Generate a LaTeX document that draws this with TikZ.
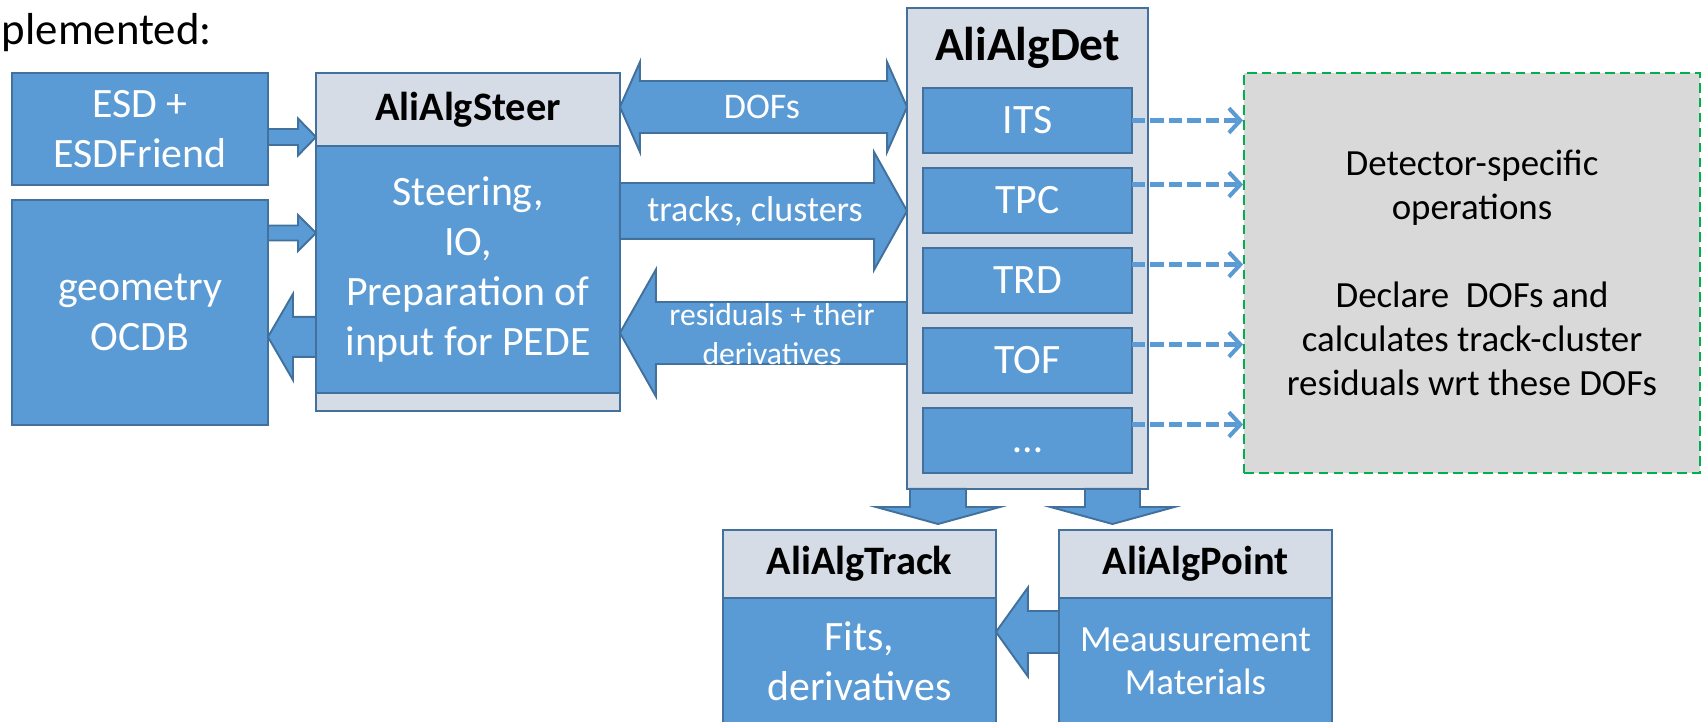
\documentclass[tikz,border=0pt]{standalone}
\usepackage{fontspec}
\setmainfont{Carlito}
\usetikzlibrary{calc,arrows.meta}

\definecolor{boxblue}{HTML}{5B9BD5}
\definecolor{boxedge}{HTML}{41719C}
\definecolor{headgray}{HTML}{D6DCE5}
\definecolor{notegray}{HTML}{D9D9D9}
\definecolor{notegreen}{HTML}{00B050}

\newcommand{\bigtxt}{\fontsize{23.8}{28.3}\selectfont}
\newcommand{\midtxt}{\fontsize{21}{25}\selectfont}
\newcommand{\hdtxt}{\fontsize{23}{27}\selectfont\bfseries}
\newcommand{\dettxt}{\fontsize{27}{32}\selectfont\bfseries}
\newcommand{\armtxt}{\fontsize{20.5}{24}\selectfont}
\newcommand{\restxt}{\fontsize{18}{22}\selectfont}
\newcommand{\toptxt}{\fontsize{25.5}{30}\selectfont}

% block arrow: from, to, shaft half width, head half width, head length (cm)
\newcommand{\blockarrow}[5]{%
  \path (#1) coordinate (ba-s) (#2) coordinate (ba-t);
  \coordinate (ba-h) at ($(ba-t)!#5cm!(ba-s)$);
  \draw[blockarrow] ($(ba-s)!#3cm!90:(ba-t)$) -- ($(ba-h)!#3cm!-90:(ba-s)$)
    -- ($(ba-h)!#4cm!-90:(ba-s)$) -- (ba-t) -- ($(ba-h)!#4cm!90:(ba-s)$)
    -- ($(ba-h)!#3cm!90:(ba-s)$) -- ($(ba-s)!#3cm!-90:(ba-t)$) -- cycle;
}
% same with a head on both ends
\newcommand{\twinarrow}[5]{%
  \path (#1) coordinate (ba-s) (#2) coordinate (ba-t);
  \coordinate (ba-h) at ($(ba-t)!#5cm!(ba-s)$);
  \coordinate (ba-g) at ($(ba-s)!#5cm!(ba-t)$);
  \draw[blockarrow] (ba-s) -- ($(ba-g)!#4cm!90:(ba-t)$) -- ($(ba-g)!#3cm!90:(ba-t)$)
    -- ($(ba-h)!#3cm!-90:(ba-s)$) -- ($(ba-h)!#4cm!-90:(ba-s)$) -- (ba-t)
    -- ($(ba-h)!#4cm!90:(ba-s)$) -- ($(ba-h)!#3cm!90:(ba-s)$)
    -- ($(ba-g)!#3cm!-90:(ba-t)$) -- ($(ba-g)!#4cm!-90:(ba-t)$) -- cycle;
}

\tikzset{
  bluebox/.style={draw=boxedge, fill=boxblue, line width=1.1pt, text=white,
    align=center, inner sep=0pt, outer sep=0pt, font=\bigtxt},
  headbox/.style={draw=boxedge, fill=headgray, line width=1.1pt,
    align=center, inner sep=0pt, outer sep=0pt, font=\hdtxt},
  blockarrow/.style={draw=boxedge, fill=boxblue, line width=1.1pt, line join=miter},
  dasharrow/.style={draw=boxblue, line width=2.3pt, dash pattern=on 7.5pt off 3pt,
    -{Straight Barb[length=6.5pt,width=14pt,line width=2.3pt]}},
  armlabel/.style={text=white, font=\armtxt, align=center, inner sep=0pt}
}

\begin{document}
\begin{tikzpicture}[x=0.02cm, y=-0.02cm]
\useasboundingbox (0,0) rectangle (1701,722);

\node[anchor=base east, font=\toptxt, inner sep=0pt] (heading) at (212,45) {plemented:};

% inputs
\node[bluebox, minimum width=5.12cm, minimum height=2.24cm] (esd) at (140,129) {ESD +\\ESDFriend};
\node[bluebox, minimum width=5.12cm, minimum height=4.5cm] (geom) at (140,312.5) {geometry\\OCDB};

% steering
\node[headbox, minimum width=6.08cm, minimum height=1.46cm, anchor=north west] (steerh) at (316,73) {AliAlgSteer};
\node[bluebox, minimum width=6.08cm, minimum height=4.94cm, anchor=north] (steer) at (steerh.south)
  {Steering,\\IO,\\Preparation of\\input for PEDE};
\node[headbox, minimum width=6.08cm, minimum height=0.36cm, anchor=north] (steerf) at (steer.south) {};

% detectors
\node[headbox, minimum width=4.82cm, minimum height=9.62cm] (det) at (1027.5,248.5) {};
\node[font=\dettxt, inner sep=0pt] (dettitle) at (1027.5,48) {AliAlgDet};
\foreach \n/\t [count=\i from 0] in {its/ITS,tpc/TPC,trd/TRD,tof/TOF,more/{\raisebox{-7pt}[0pt][0pt]{\dots}}}
  \node[bluebox, minimum width=4.18cm, minimum height=1.3cm] (\n) at (1027.5,120.5+80*\i) {\t};

\node[draw=notegreen, fill=notegray, line width=1.1pt, dash pattern=on 5.5pt off 3pt,
  minimum width=9.12cm, minimum height=8cm, font=\midtxt, align=center, inner sep=0pt] (grey) at (1472,273)
  {Detector-specific\\operations\\[25pt]Declare\ \ DOFs and\\calculates track-cluster\\residuals wrt these DOFs};

% track and point
\node[headbox, minimum width=5.46cm, minimum height=1.36cm, anchor=north west] (trackh) at (723,530) {AliAlgTrack};
\node[bluebox, minimum width=5.46cm, minimum height=2.52cm, anchor=north] (track) at (trackh.south) {Fits,\\derivatives};
\node[headbox, minimum width=5.46cm, minimum height=1.36cm, anchor=north west] (pointh) at (1059,530) {AliAlgPoint};
\node[bluebox, minimum width=5.46cm, minimum height=2.52cm, anchor=north, font=\fontsize{21}{24.4}\selectfont]
  (point) at (pointh.south) {Meausurement\\Materials};

% block arrows
\coordinate (a1) at ([yshift=-0.16cm]esd.east);
\blockarrow{a1}{a1 -| steerh.west}{0.16}{0.37}{0.36}
\coordinate (a2) at ([yshift=1.59cm]geom.east);
\blockarrow{a2}{a2 -| steer.west}{0.15}{0.36}{0.36}
\coordinate (a3) at ([yshift=-1.35cm]steer.west);
\blockarrow{a3}{a3 -| geom.east}{0.4}{0.86}{0.5}
\coordinate (a4) at ([yshift=0.05cm]steerh.east);
\twinarrow{a4}{a4 -| det.west}{0.52}{0.9}{0.4}
\coordinate (a5) at ([yshift=1.17cm]steer.east);
\blockarrow{a5}{a5 -| det.west}{0.56}{1.18}{0.66}
\coordinate (a6) at ([yshift=-1.69cm]det.west);
\blockarrow{a6}{a6 -| steer.east}{0.62}{1.27}{0.72}
\coordinate (a7) at ([xshift=-1.79cm]det.south);
\coordinate (a7t) at ([yshift=0.12cm]a7 |- trackh.north);
\blockarrow{a7}{a7t}{0.56}{1.24}{0.34}
\coordinate (a8) at ([xshift=1.70cm]det.south);
\coordinate (a8t) at ([yshift=0.12cm]a8 |- pointh.north);
\blockarrow{a8}{a8t}{0.55}{1.24}{0.34}
\coordinate (a9) at ([yshift=0.58cm]point.west);
\blockarrow{a9}{a9 -| track.east}{0.42}{0.89}{0.64}

\node[armlabel] (doflabel) at (762,107) {DOFs};
\node[armlabel] (tracklabel) at (755,211) {tracks, clusters};
\node[armlabel, font=\restxt] (reslabel) at (772,334) {residuals + their\\derivatives};

% dashed links to the note
\foreach \n/\s in {its/0,tpc/0.32,trd/0.32,tof/0.32,more/0.32} {
  \coordinate (d) at ([yshift=\s cm]\n.east);
  \draw[dasharrow] (d) -- (d -| grey.west);
}
\end{tikzpicture}
\end{document}
